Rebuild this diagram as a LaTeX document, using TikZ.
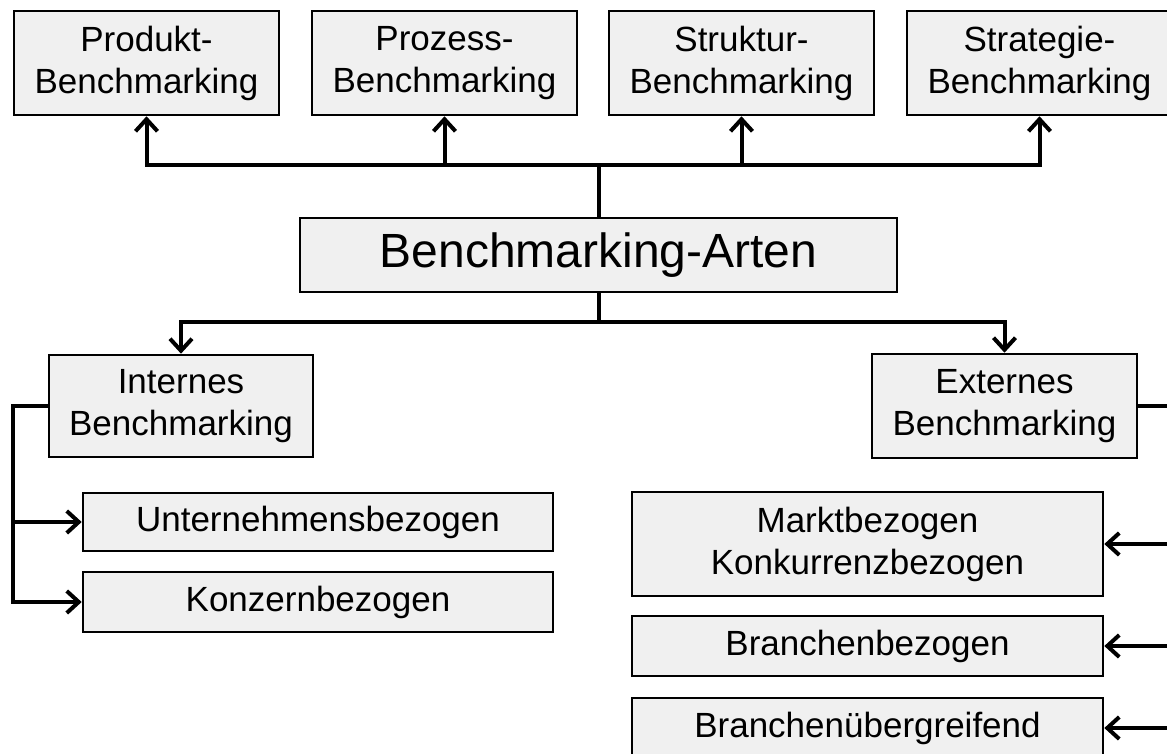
\documentclass[tikz,border=0pt]{standalone}
\usepackage{fontspec}
\setmainfont{Liberation Sans}
\usetikzlibrary{arrows.meta}
\definecolor{boxgray}{RGB}{240,240,240}
\begin{document}
\begin{tikzpicture}[x=0.5pt,y=-0.5pt,
  box/.style={draw=black, line width=1.3pt, fill=boxgray, inner sep=0pt, align=center,
    font=\fontsize{17.5}{21}\selectfont},
  conn/.style={line width=2pt, draw=black},
  arr/.style={conn, -{Straight Barb[length=6pt,width=11pt]}}]
\useasboundingbox (0,0) rectangle (1167,754);
\clip (0,0) rectangle (1167,754);
% top row
\node[box, minimum width=132.5pt, minimum height=52pt] (p1) at (146.5,63) {Produkt-\\Benchmarking};
\node[box, minimum width=132.5pt, minimum height=52pt] (p2) at (444.5,63) {Prozess-\\Benchmarking};
\node[box, minimum width=132.5pt, minimum height=52pt] (p3) at (741.5,63) {Struktur-\\Benchmarking};
\node[box, minimum width=132.5pt, minimum height=52pt] (p4) at (1039.5,63) {Strategie-\\Benchmarking};
% center
\node[box, minimum width=298.5pt, minimum height=37pt, font=\fontsize{24}{28}\selectfont] (arten) at (598.5,255) {Benchmarking-Arten};
% second level
\node[box, minimum width=132pt, minimum height=51pt] (int) at (181,406) {Internes\\Benchmarking};
\node[box, minimum width=132.5pt, minimum height=52pt] (ext) at (1004.5,406) {Externes\\Benchmarking};
% internal children
\node[box, minimum width=235pt, minimum height=29pt] (unt) at (318,522) {Unternehmensbezogen};
\node[box, minimum width=235pt, minimum height=30pt] (konz) at (318,602) {Konzernbezogen};
% external children
\node[box, minimum width=235.5pt, minimum height=52pt] (markt) at (867.5,544) {Marktbezogen\\Konkurrenzbezogen};
\node[box, minimum width=235.5pt, minimum height=30pt] (bbez) at (867.5,646) {Branchenbezogen};
\node[box, minimum width=235.5pt, minimum height=30pt] (bueb) at (867.5,728) {Branchenübergreifend};
% bus coordinates
\coordinate (tbus) at (598.5,165);
\coordinate (bbus) at (598.5,322);
\coordinate (lbus) at (13,0);
\coordinate (rbus) at (1185,0);
% top connectors
\draw[arr] (arten.north) -- (tbus) -| (p1.south);
\draw[arr] (tbus) -| (p2.south);
\draw[arr] (tbus) -| (p3.south);
\draw[arr] (tbus) -| (p4.south);
% bottom connectors
\draw[arr] (arten.south) -- (bbus) -| (int.north);
\draw[arr] (bbus) -| (ext.north);
% left bus
\draw[arr] (int.west) -- (int.west -| lbus) |- (unt.west);
\draw[arr] (int.west -| lbus) |- (konz.west);
% right bus
\draw[arr] (ext.east) -- (ext.east -| rbus) |- (markt.east);
\draw[arr] (ext.east -| rbus) |- (bbez.east);
\draw[arr] (ext.east -| rbus) |- (bueb.east);
\end{tikzpicture}
\end{document}
